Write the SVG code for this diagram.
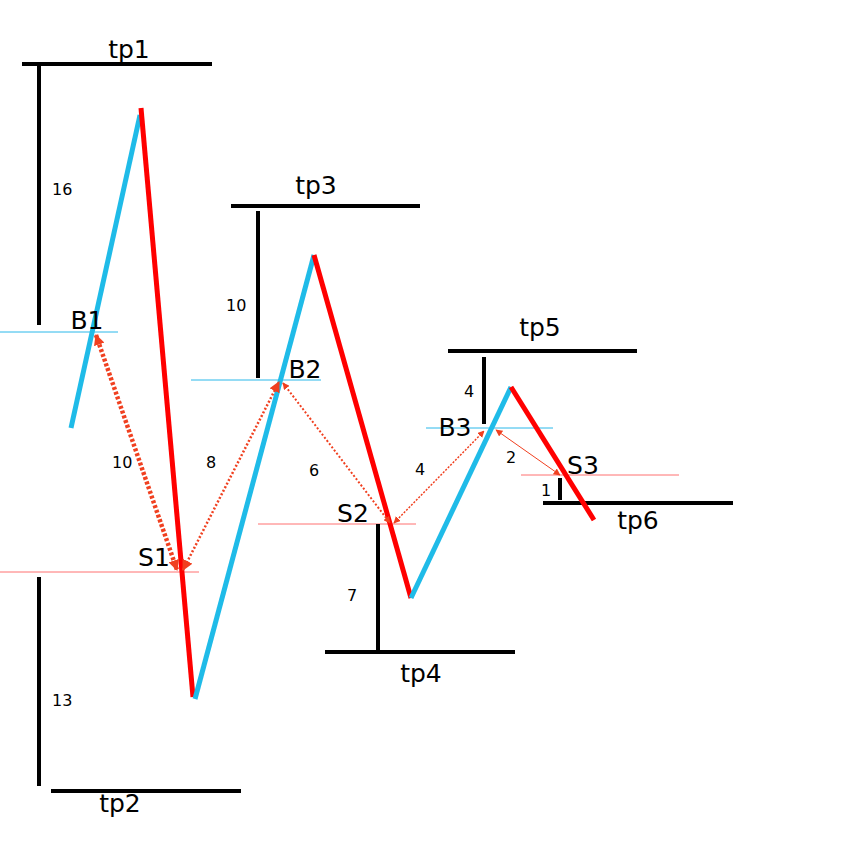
<svg xmlns="http://www.w3.org/2000/svg" width="860" height="861" viewBox="0 0 860 861">
<defs>
<style>
.bk{stroke:#000;stroke-width:4;fill:none}
.up{stroke:#1fbbe8;stroke-width:5;fill:none}
.dn{stroke:#ff0000;stroke-width:5;fill:none}
.lb{stroke:#2ab8ea;stroke-width:1;fill:none}
.lr{stroke:#ff7070;stroke-width:1;fill:none}
.ar{stroke:#f04020;fill:none}
.t{font-family:"DejaVu Sans",Verdana,sans-serif;fill:#000}
.big{font-size:25px}
.num{font-size:16px}
</style>
<marker id="ah" viewBox="0 0 10 10" refX="9" refY="5" markerWidth="11" markerHeight="11" markerUnits="userSpaceOnUse" orient="auto-start-reverse">
<path d="M0,0 L10,5 L0,10 Z" fill="#f04020"/>
</marker>
<marker id="ahs" viewBox="0 0 10 10" refX="9" refY="5" markerWidth="7" markerHeight="7" markerUnits="userSpaceOnUse" orient="auto-start-reverse">
<path d="M0,0 L10,5 L0,10 Z" fill="#f04020"/>
</marker>
</defs>
<rect width="860" height="861" fill="#fff"/>
<g id="levels">
<line class="lb" x1="0" y1="332" x2="118" y2="332"/>
<line class="lr" x1="0" y1="572" x2="199" y2="572"/>
<line class="lb" x1="191" y1="380" x2="321" y2="380"/>
<line class="lr" x1="258" y1="524" x2="416" y2="524"/>
<line class="lb" x1="426" y1="428" x2="553" y2="428"/>
<line class="lr" x1="521" y1="475" x2="679" y2="475"/>
</g>
<g id="tp1"><line class="bk" x1="22" y1="64" x2="212" y2="64"/><line class="bk" x1="39" y1="64" x2="39" y2="325"/><text class="t big" x="129" y="58" text-anchor="middle">tp1</text><text class="t num" x="52" y="195">16</text></g>
<g id="tp2"><line class="bk" x1="39" y1="577" x2="39" y2="786"/><line class="bk" x1="51" y1="791" x2="241" y2="791"/><text class="t big" x="120" y="812" text-anchor="middle">tp2</text><text class="t num" x="52" y="706">13</text></g>
<g id="tp3"><line class="bk" x1="231" y1="206" x2="420" y2="206"/><line class="bk" x1="258" y1="211" x2="258" y2="378"/><text class="t big" x="316" y="194" text-anchor="middle">tp3</text><text class="t num" x="226" y="311">10</text></g>
<g id="tp4"><line class="bk" x1="378" y1="524" x2="378" y2="651"/><line class="bk" x1="325" y1="652" x2="515" y2="652"/><text class="t big" x="421" y="682" text-anchor="middle">tp4</text><text class="t num" x="347" y="601">7</text></g>
<g id="tp5"><line class="bk" x1="448" y1="351" x2="637" y2="351"/><line class="bk" x1="484" y1="357" x2="484" y2="424"/><text class="t big" x="540" y="336" text-anchor="middle">tp5</text><text class="t num" x="464" y="397">4</text></g>
<g id="tp6"><line class="bk" x1="560" y1="478" x2="560" y2="500"/><line class="bk" x1="543" y1="503" x2="733" y2="503"/><text class="t big" x="638" y="529" text-anchor="middle">tp6</text><text class="t num" x="541" y="496">1</text></g>
<g id="price">
<line class="up" x1="71" y1="428" x2="140" y2="115"/>
<line class="dn" x1="141" y1="108" x2="193" y2="697"/>
<line class="up" x1="195" y1="699" x2="314" y2="255"/>
<line class="dn" x1="314" y1="255" x2="411" y2="598"/>
<line class="up" x1="411" y1="598" x2="511" y2="387"/>
<line class="dn" x1="511" y1="387" x2="594" y2="520"/>
</g>
<g id="B1"><text class="t big" x="87" y="329" text-anchor="middle">B1</text></g>
<g id="S1"><text class="t big" x="154" y="566" text-anchor="middle">S1</text></g>
<g id="B2"><text class="t big" x="305" y="378" text-anchor="middle">B2</text></g>
<g id="S2"><text class="t big" x="353" y="522" text-anchor="middle">S2</text></g>
<g id="B3"><text class="t big" x="455" y="436" text-anchor="middle">B3</text></g>
<g id="S3"><text class="t big" x="583" y="474" text-anchor="middle">S3</text></g>
<g id="connectors">
<line class="ar" x1="96" y1="335" x2="177" y2="570" stroke-width="4.5" stroke-dasharray="3,2" marker-start="url(#ah)" marker-end="url(#ah)"/>
<line class="ar" x1="183" y1="570" x2="279" y2="382" stroke-width="2.5" stroke-dasharray="2,2" marker-start="url(#ah)" marker-end="url(#ah)"/>
<line class="ar" x1="283" y1="383" x2="390" y2="523" stroke-width="2" stroke-dasharray="2,2" marker-start="url(#ahs)" marker-end="url(#ahs)"/>
<line class="ar" x1="394" y1="523" x2="484" y2="431" stroke-width="1.5" stroke-dasharray="2,1.5" marker-start="url(#ahs)" marker-end="url(#ahs)"/>
<line class="ar" x1="496" y1="430" x2="560" y2="475" stroke-width="1" marker-start="url(#ahs)" marker-end="url(#ahs)"/>
<text class="t num" x="112" y="468">10</text>
<text class="t num" x="206" y="468">8</text>
<text class="t num" x="309" y="476">6</text>
<text class="t num" x="415" y="475">4</text>
<text class="t num" x="506" y="463">2</text>
</g>
</svg>
